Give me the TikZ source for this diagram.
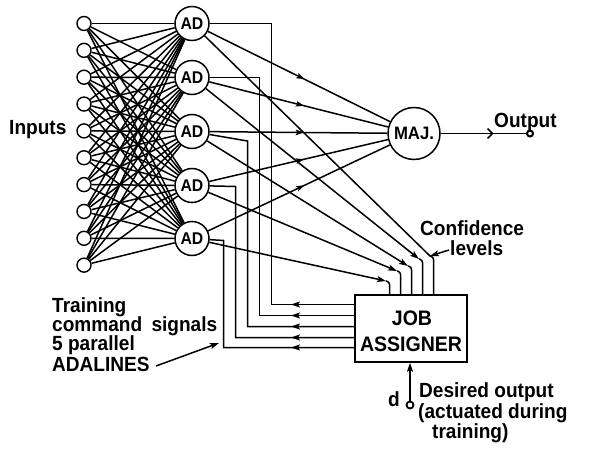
\documentclass[tikz,border=0pt]{standalone}
\usepackage{fontspec}
\setmainfont{Liberation Sans}
\newfontfamily\lettering{Liberation Sans}[FakeStretch=0.93]
\usetikzlibrary{arrows.meta,decorations.markings}
\begin{document}
\begin{tikzpicture}[x=1pt,y=-1pt,
  wire/.style={line width=1.5pt},
  inp/.style={circle,draw,line width=1.4pt,fill=white,minimum size=14pt,inner sep=0pt},
  adal/.style={circle,draw,line width=1.5pt,fill=white,minimum size=34pt,inner sep=0pt,
    font=\lettering\fontsize{17}{17}\selectfont\bfseries},
  lbl/.style={inner sep=0pt,anchor=base west,font=\lettering\fontsize{20.5}{20.5}\selectfont\bfseries},
  boxlbl/.style={inner sep=0pt,anchor=base,font=\lettering\fontsize{21}{21}\selectfont\bfseries},
  tip/.style={-{Stealth[length=9pt,width=6pt,inset=2pt]}},
  midtip/.style={postaction={decorate},decoration={markings,
    mark=at position #1 with {\arrow{Stealth[length=8pt,width=5.5pt,inset=1.5pt]}}}},
]
\useasboundingbox (0,0) rectangle (594,449);

% input terminals
\foreach \i in {1,...,10}
  \node[inp] (in\i) at (84,{23.5+(\i-1)*26.85}) {};

% the five adaptive elements
\foreach \j/\y in {1/23.5,2/77.5,3/131.5,4/185.5,5/238.5}
  \node[adal] (ad\j) at (192,\y) {AD};

% every input feeds every element
\foreach \i in {1,...,10}
  \foreach \j in {1,...,5}
    \draw[wire] (in\i) -- (ad\j);

% majority element and output
\node[adal,minimum size=52pt,font=\lettering\fontsize{18}{18}\selectfont\bfseries] (maj) at (414,133.5) {MAJ.};
\foreach \j in {1,...,5}
  \draw[wire,midtip=0.53] (ad\j) -- (maj);

\node[circle,draw,line width=2pt,minimum size=6pt,inner sep=0pt,fill=white] (out) at (530,133.5) {};
\draw[wire,postaction={decorate},decoration={markings,
  mark=at position 0.62 with {\arrow{Straight Barb[length=5pt,width=10pt,line width=1.5pt]}}}]
  (maj) -- (out);
\node[lbl] (outlbl) at (494,128) {Output};

% job assigner
\node[draw,line width=1.5pt,minimum width=112pt,minimum height=67pt,inner sep=0pt] (job) at (411,328.5) {};
\node[boxlbl] (jobA) at (412,325) {JOB};
\node[boxlbl] (jobB) at (411,351) {ASSIGNER};

% training command lines back to the elements
\foreach \j/\x/\yc/\yb in {1/271.5/23.5/304.5, 2/259.5/77.5/315.5, 3/247.5/141/326.5, 4/235.5/186.5/337.5, 5/223.5/240.5/347.5} {
  \coordinate (cu\j) at (\x,\yc);
  \coordinate (cb\j) at (\x,\yb);
  \coordinate (ca\j) at (291,\yb);
  \draw[wire] (job.west |- cb\j) -- (cb\j) -- (cu\j) -- (ad\j);
  \draw[wire,tip] (job.west |- cb\j) -- (ca\j);
}

% confidence level lines into the top of the assigner
\foreach \k/\x/\y in {1/389.5/282, 2/400.5/272, 3/411.5/267, 4/422.5/260, 5/433.5/257} {
  \coordinate (s\k) at (\x,\y);
  \coordinate (t\k) at ({\x-3.5},{\y-1});
  \draw[wire,rounded corners=2.5pt] (t\k) -- (s\k) -- (s\k |- job.north);
}
\draw[wire,tip] (ad5) -- (t1);
\draw[wire,tip] (ad4) -- (t2);
\draw[wire,tip] (ad3) -- (t3);
\draw[wire,tip] (ad2) -- (t4);
\draw[wire] (ad1) -- (t5);

\node[lbl] (conf1) at (420,235) {Confidence};
\node[lbl] (conf2) at (450,255) {levels};
\coordinate (confTail) at (449,250);
\draw[wire,tip] (confTail) -- (t5);

% labels on the left
\node[lbl] (inputs) at (9,135) {Inputs};
\node[lbl] (tr1) at (52,312) {Training};
\node[lbl] (tr2) at (52,331) {command\hspace{4pt} signals};
\node[lbl] (tr3) at (52,350.5) {5 parallel};
\node[lbl] (tr4) at (52,371) {ADALINES};
\coordinate (adalTail) at (156,366);
\coordinate (adalTip) at (219,343);
\draw[wire,tip] (adalTail) -- (adalTip);

% desired output terminal
\node[circle,draw,line width=1.8pt,minimum size=7pt,inner sep=0pt,fill=white] (dpin) at (410,405) {};
\draw[wire,tip] (dpin) -- (dpin |- job.south);
\node[lbl] (dlbl) at (388,406) {d};
\node[lbl] (des1) at (419,397) {Desired output};
\node[lbl] (des2) at (418,418) {(actuated during};
\node[lbl] (des3) at (432,438) {training)};
\end{tikzpicture}
\end{document}
